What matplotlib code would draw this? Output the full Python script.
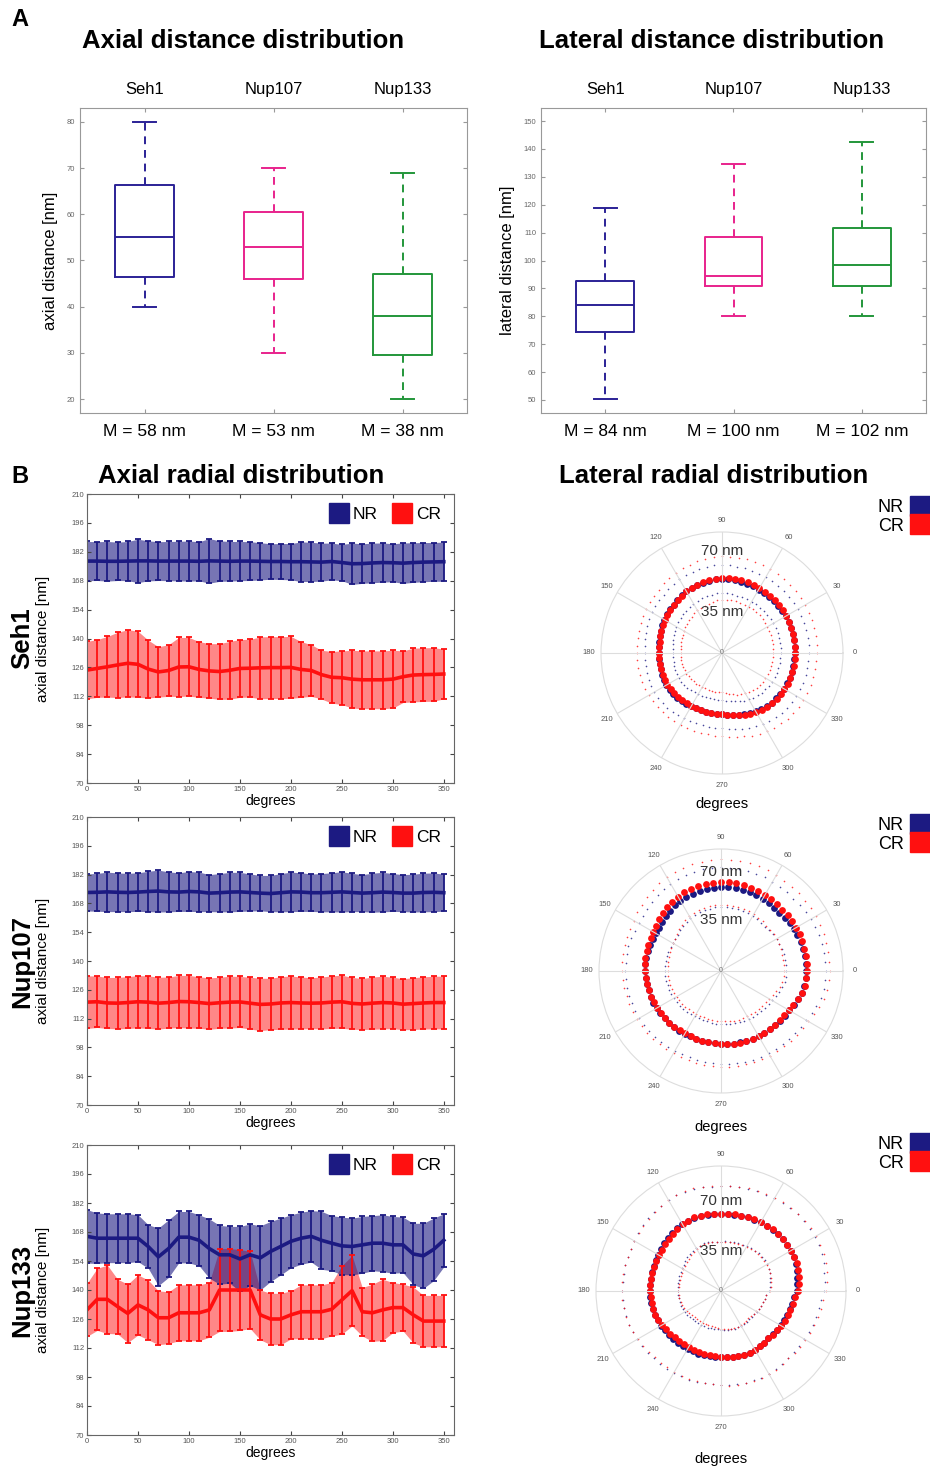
import numpy as np
import matplotlib.pyplot as plt
from matplotlib.lines import Line2D

plt.rcParams['font.family'] = ['Liberation Sans', 'DejaVu Sans']

W, H = 930, 1466
NR_COLOR = '#1c1a82'
CR_COLOR = '#ff1010'

# ---------------- A: distance distributions ----------------
proteins = ['Seh1', 'Nup107', 'Nup133']
box_colors = ['#2b2196', '#e8238c', '#23963a']

axial_lo = [40, 30, 20]
axial_q1 = [46.5, 46, 29.5]
axial_med = [55, 53, 38]
axial_q3 = [66.3, 60.5, 47]
axial_hi = [80, 70, 69]
axial_mean = [58, 53, 38]

lateral_lo = [50.5, 80, 80]
lateral_q1 = [74.5, 91, 91]
lateral_med = [84, 94.5, 98.5]
lateral_q3 = [92.5, 108.5, 111.5]
lateral_hi = [119, 134.5, 142.5]
lateral_mean = [84, 100, 102]

# ---------------- B: axial radial distribution ----------------
degrees = np.arange(0, 360, 10)

seh1_nr = [177.5, 177.5, 177.4, 177.4, 177.5, 177.6, 177.6, 177.5, 177.5, 177.5, 177.5, 177.4,
           177.6, 177.5, 177.4, 177.5, 177.5, 177.4, 177.3, 177.3, 177.2, 177.2, 177.1, 177.0,
           177.3, 176.8, 176.2, 176.3, 176.6, 176.8, 176.7, 176.5, 176.8, 177.0, 177.1, 177.2]
seh1_nr_err = [9.5, 9.4, 9.6, 9.3, 9.5, 10.5, 9.7, 9.4, 9.5, 9.6, 9.7, 9.5,
               10.8, 9.8, 9.6, 9.5, 9.4, 9.0, 8.6, 8.7, 8.8, 9.6, 9.5, 9.2,
               8.9, 8.8, 10.0, 9.6, 9.6, 9.5, 9.2, 9.8, 9.6, 9.5, 9.4, 9.5]
seh1_cr = [124.7, 125.5, 126.3, 127.2, 128.0, 127.5, 125.2, 123.8, 124.5, 126.2, 126.3, 125.0,
           124.3, 124.0, 124.6, 125.5, 125.6, 125.8, 125.9, 125.9, 126.0, 125.0, 124.5, 122.5,
           121.2, 121.0, 120.3, 120.0, 120.0, 120.0, 120.3, 121.5, 122.3, 122.5, 122.6, 122.8]
seh1_cr_err = [13.9, 14.0, 14.7, 15.8, 16.3, 16.0, 14.0, 12.2, 12.5, 14.3, 14.2, 13.5,
               13.2, 13.5, 14.0, 14.0, 14.0, 15.0, 15.0, 15.0, 15.0, 13.5, 12.5, 11.8,
               12.5, 13.0, 14.0, 14.0, 14.0, 14.0, 14.0, 12.5, 13.0, 13.0, 13.0, 12.0]

nup107_nr = [173.3, 173.4, 173.6, 173.4, 173.3, 173.5, 173.8, 174.0, 173.6, 173.5, 173.8, 173.6,
             173.0, 173.2, 173.5, 173.6, 173.3, 173.0, 172.8, 173.2, 173.6, 173.5, 173.2, 173.2,
             173.4, 173.6, 173.3, 173.0, 173.2, 173.5, 173.3, 173.0, 173.0, 173.3, 173.4, 173.2]
nup107_nr_err = [9.0, 9.2, 9.6, 9.4, 9.3, 9.4, 9.8, 10.2, 9.7, 9.4, 9.7, 9.6,
                 9.0, 9.3, 9.6, 9.5, 9.0, 8.6, 8.8, 9.3, 9.6, 9.4, 9.1, 9.3,
                 9.5, 9.8, 9.3, 9.0, 9.5, 9.6, 9.2, 9.0, 9.2, 9.4, 9.4, 9.0]
nup107_cr = [120.0, 120.2, 119.6, 119.5, 119.8, 120.2, 120.0, 119.5, 119.8, 120.3, 120.2, 119.8,
             119.3, 119.7, 120.0, 120.1, 119.5, 118.9, 119.1, 119.6, 119.8, 119.6, 119.5, 119.6,
             120.0, 120.2, 119.4, 119.1, 119.5, 119.8, 119.6, 119.0, 119.3, 119.6, 119.8, 119.8]
nup107_cr_err = [12.8, 12.5, 12.4, 12.5, 12.6, 12.7, 12.8, 12.6, 12.4, 12.7, 12.8, 12.5,
                 12.5, 12.4, 12.6, 12.4, 12.6, 12.7, 12.5, 12.8, 12.9, 12.6, 12.4, 12.6,
                 12.8, 12.9, 12.6, 12.4, 12.7, 12.8, 12.5, 12.4, 12.6, 12.7, 12.8, 12.8]

nup133_nr = [165.9, 165.0, 165.0, 165.0, 165.0, 165.0, 161.0, 156.0, 160.0, 165.5, 165.5, 164.0,
             160.0, 157.0, 157.0, 155.0, 157.0, 155.5, 158.6, 161.0, 163.5, 165.0, 165.9, 164.0,
             162.6, 161.3, 161.0, 161.8, 162.6, 162.6, 161.8, 161.8, 157.4, 156.5, 159.6, 164.0]
nup133_nr_err = [12.9, 12.2, 11.8, 11.8, 11.8, 11.3, 10.5, 13.9, 13.9, 12.4, 12.4, 12.3,
                 14.3, 14.2, 13.7, 15.7, 14.9, 15.5, 14.5, 13.7, 12.8, 12.6, 12.4, 14.0,
                 13.3, 13.9, 13.7, 13.7, 13.3, 13.7, 13.7, 13.4, 14.8, 15.7, 15.1, 12.8]
nup133_cr = [130.4, 135.5, 135.5, 132.0, 128.7, 132.8, 130.4, 126.6, 126.6, 129.0, 129.0, 129.0,
             130.4, 140.0, 140.0, 140.0, 140.0, 128.0, 126.0, 126.0, 128.0, 129.5, 129.5, 129.5,
             130.7, 135.2, 139.7, 129.5, 129.0, 130.4, 131.5, 131.5, 128.0, 125.0, 125.0, 125.0]
nup133_cr_err = [12.8, 15.0, 16.5, 13.2, 14.1, 14.5, 14.4, 13.0, 12.5, 13.5, 13.5, 13.5,
                 13.2, 20.0, 20.0, 19.5, 18.6, 12.0, 12.4, 12.4, 11.6, 13.0, 13.0, 13.0,
                 12.9, 16.5, 17.0, 11.7, 13.8, 14.8, 12.1, 11.3, 13.5, 12.4, 12.4, 12.4]

# ---------------- B: lateral radial distribution (radius in nm) ----------------
lat_deg = np.arange(0, 360, 5)

seh1_nr_r = [51.7, 51.8, 52.0, 52.1, 52.2, 52.2, 52.2, 52.3, 52.2, 52.2, 52.1, 52.1,
             52.1, 52.2, 52.2, 52.3, 52.4, 52.5, 52.6, 52.5, 52.2, 51.8, 51.3, 51.0,
             50.6, 50.0, 49.3, 48.7, 48.4, 48.0, 47.6, 47.1, 46.4, 45.8, 45.3, 45.0,
             44.8, 44.9, 45.0, 45.2, 45.4, 45.5, 45.6, 45.4, 45.1, 44.8, 44.4, 44.0,
             43.6, 43.4, 43.3, 43.3, 43.2, 43.2, 43.3, 44.0, 44.8, 45.6, 46.5, 47.3,
             48.0, 48.7, 49.3, 50.0, 50.3, 50.6, 50.9, 51.2, 51.4, 51.5, 51.6, 51.7]
seh1_cr_r = [51.9, 52.0, 52.1, 52.3, 52.4, 52.5, 52.6, 52.9, 53.1, 53.3, 53.3, 53.3,
             53.3, 53.4, 53.4, 53.4, 53.4, 53.3, 53.3, 53.0, 52.4, 51.9, 51.3, 50.9,
             50.5, 49.8, 49.0, 48.3, 47.8, 47.3, 46.9, 46.4, 45.9, 45.4, 45.1, 44.9,
             44.8, 44.8, 44.8, 44.8, 44.8, 44.8, 44.8, 44.5, 44.3, 44.1, 43.8, 43.6,
             43.4, 43.3, 43.3, 43.3, 43.3, 43.4, 43.4, 44.2, 45.0, 45.9, 46.9, 47.7,
             48.4, 49.2, 49.8, 50.5, 50.7, 51.0, 51.2, 51.4, 51.6, 51.7, 51.8, 51.9]

nup107_nr_r = [59.9, 59.9, 59.8, 59.7, 59.7, 59.5, 59.3, 59.0, 58.6, 58.2, 58.3, 58.4,
               58.6, 58.8, 59.0, 59.2, 59.2, 59.2, 59.2, 59.0, 58.7, 58.5, 58.1, 57.7,
               57.2, 56.4, 55.5, 54.8, 54.0, 53.4, 53.0, 53.2, 53.4, 53.6, 53.6, 53.5,
               53.4, 53.3, 53.1, 52.9, 52.8, 52.6, 52.4, 52.2, 51.9, 51.7, 51.5, 51.3,
               51.0, 50.9, 50.8, 50.8, 51.0, 51.2, 51.4, 51.6, 51.9, 52.1, 52.4, 52.7,
               53.0, 53.3, 53.6, 53.9, 54.4, 54.9, 55.4, 56.4, 57.6, 58.8, 59.5, 59.8]
nup107_cr_r = [60.6, 60.6, 60.6, 60.6, 60.9, 61.1, 61.3, 61.3, 61.3, 61.3, 61.6, 61.8,
               62.0, 62.3, 62.5, 62.7, 62.7, 62.7, 62.7, 62.5, 62.2, 62.0, 61.6, 61.1,
               60.6, 59.7, 58.7, 57.8, 56.8, 55.9, 55.0, 54.8, 54.5, 54.3, 54.1, 53.8,
               53.6, 53.4, 53.1, 52.9, 52.7, 52.4, 52.2, 52.0, 51.7, 51.5, 51.3, 51.0,
               50.8, 50.8, 50.8, 50.8, 51.0, 51.3, 51.5, 51.7, 52.0, 52.2, 52.4, 52.7,
               52.9, 53.1, 53.4, 53.6, 54.1, 54.5, 55.0, 56.2, 57.6, 59.2, 60.0, 60.4]

nup133_nr_r = [52.0, 52.6, 53.3, 54.2, 55.2, 55.6, 55.7, 55.6, 55.5, 55.5, 55.2, 54.8,
               54.5, 54.2, 53.9, 53.6, 53.4, 53.2, 53.0, 53.1, 53.4, 53.6, 53.8, 53.5,
               53.1, 52.7, 52.3, 51.8, 51.2, 50.4, 50.1, 49.7, 49.4, 49.2, 49.1, 49.0,
               48.9, 48.7, 48.6, 48.4, 48.4, 48.0, 47.6, 47.2, 46.9, 46.5, 46.3, 46.1,
               46.0, 45.9, 45.8, 45.6, 45.4, 45.4, 45.5, 45.8, 46.1, 46.3, 46.5, 46.7,
               46.8, 46.6, 46.4, 46.1, 46.5, 46.9, 47.3, 47.9, 48.4, 49.0, 49.7, 50.3]
nup133_cr_r = [53.0, 53.7, 54.4, 55.0, 55.7, 55.7, 55.7, 55.7, 55.7, 55.7, 55.4, 55.0,
               54.7, 54.4, 54.0, 53.7, 53.5, 53.2, 53.0, 53.2, 53.5, 53.7, 53.9, 53.4,
               52.9, 52.3, 51.6, 50.9, 50.2, 49.5, 49.3, 49.1, 48.9, 48.8, 48.8, 48.8,
               48.8, 48.6, 48.5, 48.3, 48.2, 47.5, 46.8, 46.1, 45.6, 45.2, 44.9, 44.7,
               44.7, 44.7, 44.7, 44.7, 44.7, 45.0, 45.4, 45.8, 46.1, 46.3, 46.5, 46.7,
               46.8, 46.6, 46.4, 46.1, 46.6, 47.1, 47.6, 48.3, 48.8, 49.5, 50.2, 50.9]

# standard deviation of the radius (dotted rings), nm
nr_sd = [10.0, 14.0, 19.0]
cr_sd = [15.5, 16.0, 19.5]

fig = plt.figure(figsize=(W / 100, H / 100), dpi=100)


def px_rect(x0, y0, x1, y1):
    return [x0 / W, 1 - y1 / H, (x1 - x0) / W, (y1 - y0) / H]


def draw_box(rect, lo, q1, med, q3, hi, means, ylim, yticks, ylabel):
    ax = fig.add_axes(px_rect(*rect))
    stats = [dict(whislo=a, q1=b, med=c, q3=d, whishi=e)
             for a, b, c, d, e in zip(lo, q1, med, q3, hi)]
    art = ax.bxp(stats, positions=[1, 2, 3], widths=0.45, capwidths=0.18,
                 showfliers=False)
    for i, c in enumerate(box_colors):
        art['boxes'][i].set(color=c, lw=1.4)
        art['medians'][i].set(color=c, lw=1.4)
        for w in art['whiskers'][2 * i:2 * i + 2]:
            w.set(color=c, lw=1.4, linestyle=(0, (4, 3)))
        for cp in art['caps'][2 * i:2 * i + 2]:
            cp.set(color=c, lw=1.4)
    ax.set_xlim(0.5, 3.5)
    ax.set_ylim(*ylim)
    ax.set_yticks(yticks)
    ax.set_xticks([1, 2, 3], [f'M = {m} nm' for m in means])
    ax.tick_params(axis='y', direction='in', length=3, labelsize=5.5,
                   labelcolor='#666666', color='#999999', right=True)
    ax.tick_params(axis='x', direction='in', length=3, labelsize=12.5,
                   color='#999999', pad=8, top=True)
    ax.set_ylabel(ylabel, fontsize=12, labelpad=6)
    for s in ax.spines.values():
        s.set_color('#999999')
    top = ax.twiny()
    top.set_xlim(ax.get_xlim())
    top.set_xticks([1, 2, 3], proteins)
    top.tick_params(direction='in', length=3, labelsize=12, color='#999999', pad=8)
    for s in top.spines.values():
        s.set_visible(False)


draw_box((80, 108, 467, 413), axial_lo, axial_q1, axial_med, axial_q3, axial_hi,
         axial_mean, (17, 83), np.arange(20, 81, 10), 'axial distance [nm]')
draw_box((541, 108, 926, 413), lateral_lo, lateral_q1, lateral_med, lateral_q3,
         lateral_hi, lateral_mean, (45.3, 154.7), np.arange(50, 151, 10),
         'lateral distance [nm]')

fig.text(20 / W, 1 - 20 / H, 'A', fontsize=17, fontweight='bold', ha='center', va='center')
fig.text(243 / W, 1 - 41 / H, 'Axial distance distribution', fontsize=18.5,
         fontweight='bold', ha='center', va='center')
fig.text(712 / W, 1 - 41 / H, 'Lateral distance distribution', fontsize=18.5,
         fontweight='bold', ha='center', va='center')

fig.text(20 / W, 1 - 476 / H, 'B', fontsize=17, fontweight='bold', ha='center', va='center')
fig.text(241 / W, 1 - 476 / H, 'Axial radial distribution', fontsize=18.5,
         fontweight='bold', ha='center', va='center')
fig.text(714 / W, 1 - 476 / H, 'Lateral radial distribution', fontsize=18.5,
         fontweight='bold', ha='center', va='center')

legend_handles = [
    Line2D([], [], marker='s', ls='none', ms=14, mfc=NR_COLOR, mec=NR_COLOR, label='NR'),
    Line2D([], [], marker='s', ls='none', ms=14, mfc=CR_COLOR, mec=CR_COLOR, label='CR'),
]


def draw_axial(rect, name, nr, nr_err, cr, cr_err):
    ax = fig.add_axes(px_rect(*rect))
    nr, nr_err = np.array(nr), np.array(nr_err)
    cr, cr_err = np.array(cr), np.array(cr_err)
    ax.fill_between(degrees, cr - cr_err, cr + cr_err, color=CR_COLOR, alpha=0.5, lw=0)
    ax.fill_between(degrees, nr - nr_err, nr + nr_err, color=NR_COLOR, alpha=0.6, lw=0)
    ax.errorbar(degrees, nr, yerr=nr_err, color=NR_COLOR, lw=2.6, elinewidth=1.3,
                capsize=2.5, capthick=1.3)
    ax.errorbar(degrees, cr, yerr=cr_err, color=CR_COLOR, lw=2.6, elinewidth=1.3,
                capsize=2.5, capthick=1.3)
    ax.set_xlim(0, 360)
    ax.set_ylim(70, 210)
    ax.set_yticks(np.arange(70, 211, 14))
    ax.set_xticks(np.arange(0, 351, 50))
    ax.tick_params(direction='in', length=3, labelsize=5.5, labelcolor='#555555',
                   color='#444444', top=True, right=True, pad=2)
    for s in ax.spines.values():
        s.set_color('#666666')
    ax.set_xlabel('degrees', fontsize=10, labelpad=1)
    ax.set_ylabel('axial distance [nm]', fontsize=11)
    ax.yaxis.set_label_coords(-0.1, 0.5)
    ax.legend(handles=legend_handles, ncol=2, loc='upper right', frameon=False,
              fontsize=12.5, handletextpad=0.3, columnspacing=0.9, handlelength=1.0,
              borderaxespad=0.35)
    cy = (rect[1] + rect[3]) / 2
    fig.text(22 / W, 1 - cy / H, name, fontsize=18.5, fontweight='bold', rotation=90,
             ha='center', va='center')


draw_axial((87, 494, 454, 783), 'Seh1', seh1_nr, seh1_nr_err, seh1_cr, seh1_cr_err)
draw_axial((87, 817, 454, 1105), 'Nup107', nup107_nr, nup107_nr_err, nup107_cr, nup107_cr_err)
draw_axial((87, 1145, 454, 1435), 'Nup133', nup133_nr, nup133_nr_err, nup133_cr, nup133_cr_err)


def draw_polar(cx, cy, rad, nr_r, cr_r, sd_nr, sd_cr, label_r, deg_y, legend_top):
    ax = fig.add_axes([(cx - rad) / W, 1 - (cy + rad) / H, 2 * rad / W, 2 * rad / H],
                      projection='polar')
    th = np.deg2rad(lat_deg)
    nr_r, cr_r = np.array(nr_r), np.array(cr_r)
    for r, sd, c in ((nr_r, sd_nr, NR_COLOR), (cr_r, sd_cr, CR_COLOR)):
        ax.scatter(th, r + sd, s=1.4, color=c, lw=0, alpha=0.8)
        ax.scatter(th, r - sd, s=1.4, color=c, lw=0, alpha=0.8)
    ax.scatter(th, nr_r, s=24, color=NR_COLOR, lw=0)
    ax.scatter(th, cr_r, s=24, color=CR_COLOR, lw=0)
    ax.set_ylim(0, 86)
    ax.set_yticks([])
    ax.set_thetagrids(np.arange(0, 360, 30), [str(a) for a in range(0, 360, 30)],
                      fontsize=5.5, color='#555555')
    ax.tick_params(axis='x', pad=-2)
    ax.grid(color='#dddddd', lw=0.8)
    ax.spines['polar'].set_color('#dddddd')
    ax.text(np.pi / 2, label_r[0], '70 nm', fontsize=11, color='#333333',
            ha='center', va='center')
    ax.text(np.pi / 2, label_r[1], '35 nm', fontsize=11, color='#333333',
            ha='center', va='center')
    ax.text(0, 0, '0', fontsize=5, color='#777777', ha='center', va='center')
    fig.text(cx / W, 1 - deg_y / H, 'degrees', fontsize=10.5, ha='center', va='center')
    fig.legend(handles=legend_handles, loc='upper right',
               bbox_to_anchor=(929 / W, 1 - legend_top / H), frameon=False,
               markerfirst=False, fontsize=13, handletextpad=0.4, labelspacing=0.1,
               handlelength=1.0, borderaxespad=0, borderpad=0)


draw_polar(722, 653, 121, seh1_nr_r, seh1_cr_r, nr_sd[0], cr_sd[0], (72.5, 29.1), 804, 499)
draw_polar(721, 971, 122, nup107_nr_r, nup107_cr_r, nr_sd[1], cr_sd[1], (69.8, 36), 1127, 817)
draw_polar(721, 1291, 125, nup133_nr_r, nup133_cr_r, nr_sd[2], cr_sd[2], (61.9, 27.5), 1459, 1136)

fig.savefig('out.png', dpi=100)
